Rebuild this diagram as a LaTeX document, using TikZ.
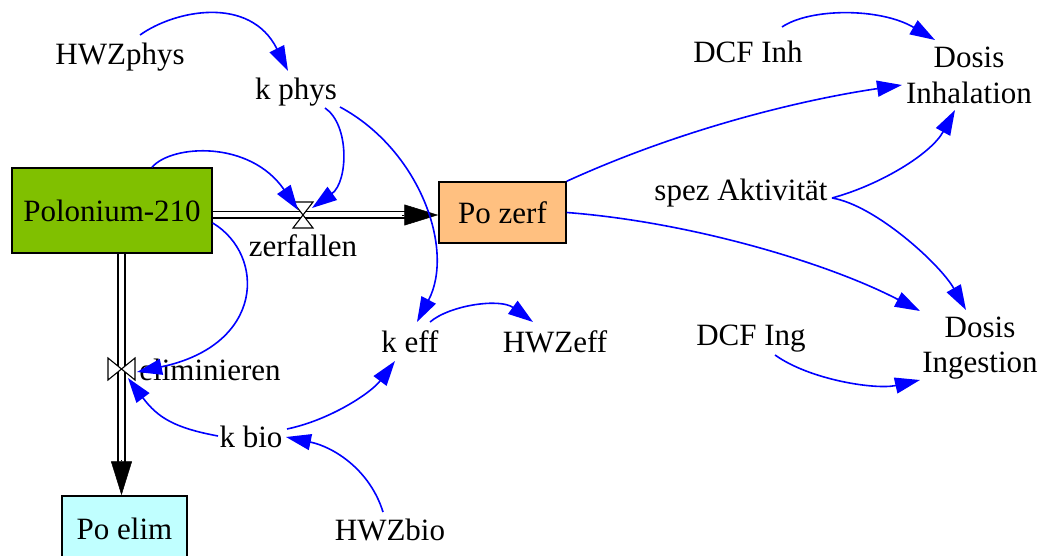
\documentclass[tikz,border=0pt]{standalone}
\usepackage{fontspec}
\setmainfont{Liberation Serif}
\usetikzlibrary{arrows.meta,calc}
\definecolor{polgreen}{RGB}{128,192,0}
\definecolor{zerforange}{RGB}{255,192,128}
\definecolor{elimcyan}{RGB}{192,255,255}
\begin{document}
\begin{tikzpicture}[x=1pt,y=-1pt,
  txt/.style={font=\fontsize{31}{35.5}\selectfont, inner sep=0pt, anchor=base},
  stock/.style={draw=black, line width=1.5pt, font=\fontsize{31}{35.5}\selectfont, inner sep=0pt},
  pipe/.style={draw=black, double=white, line width=1.6pt, double distance=5pt},
  flowhead/.style={black, line width=0.5pt, -{Triangle[length=34pt,width=21pt]}},
  valve/.style={draw=black, fill=white, line width=1.1pt, line join=miter},
  link/.style={draw=blue, line width=1.6pt, -{Triangle[length=25pt,width=16pt]}}]
\useasboundingbox (0,0) rectangle (1042,556);

% stocks
\node[stock, fill=polgreen, minimum width=200pt, minimum height=85pt] (polo) at (112,210.5) {Polonium-210};
\node[stock, fill=zerforange, minimum width=127pt, minimum height=61pt] (pozerf) at (502.5,212.5) {Po zerf};
\node[stock, fill=elimcyan, minimum width=125pt, minimum height=65pt] (poelim) at (124.5,528.5) {Po elim};

% valves
\coordinate (vz) at (303,215);
\coordinate (ve) at (121.5,369);

% flows
\draw[pipe] (polo.east |- vz) -- ($(pozerf.west |- vz)+(-33,0)$);
\draw[flowhead] ($(pozerf.west |- vz)+(-36,0)$) -- (pozerf.west |- vz);
\draw[pipe] (polo.south -| ve) -- ($(poelim.north -| ve)+(0,-31)$);
\draw[flowhead] ($(poelim.north -| ve)+(0,-35)$) -- (poelim.north -| ve);

\draw[valve] ($(vz)+(-10,-13)$) -- ($(vz)+(10,-13)$) -- (vz) -- cycle;
\draw[valve] ($(vz)+(-10,13)$) -- ($(vz)+(10,13)$) -- (vz) -- cycle;
\draw[valve] ($(ve)+(-13.5,-11)$) -- ($(ve)+(-13.5,11)$) -- (ve) -- cycle;
\draw[valve] ($(ve)+(13.5,-11)$) -- ($(ve)+(13.5,11)$) -- (ve) -- cycle;

% labels and auxiliaries
\node[txt] (zerf) at (303,257) {zerfallen};
\node[txt] (elim) at (210,380) {eliminieren};
\node[txt] (hwzphys) at (120,65) {HWZphys};
\node[txt] (kphys) at (296,100) {k phys};
\node[txt] (keff) at (410,352) {k eff};
\node[txt] (hwzeff) at (555,352) {HWZeff};
\node[txt] (kbio) at (251,447) {k bio};
\node[txt] (hwzbio) at (390,540) {HWZbio};
\node[txt] (spez) at (741,201) {spez Aktivität};
\node[txt] (dcfinh) at (748,63) {DCF Inh};
\node[txt] (dcfing) at (751,345) {DCF Ing};
\node[txt] (dosisinh) at (969,68) {\begin{tabular}[t]{@{}c@{}}Dosis\\Inhalation\end{tabular}};
\node[txt] (dosising) at (980,337) {\begin{tabular}[t]{@{}c@{}}Dosis\\Ingestion\end{tabular}};

% links
\draw[link] ($(hwzphys.base)+(20,-30)$) .. controls +(35,-25) and +(-38,-76) .. ($(kphys.base)+(-8,-29)$);
\draw[link] ($(polo.north)+(40,0)$) .. controls +(20,-23) and +(-48,-70) .. ($(vz)+(-5,-5)$);
\draw[link] ($(kphys.base)+(29,8)$) .. controls +(25,17) and +(36,-26) .. ($(vz)+(9,-7)$);
\draw[link] ($(kphys.base)+(44,7)$) .. controls +(80,43) and +(38,-72) .. ($(keff.base)+(7,-30)$);
\draw[link] ($(polo.east)+(0,12.5)$) .. controls +(53,32) and +(128,-27) .. ($(ve)+(15.5,3)$);
\draw[link] ($(kbio.base)+(-33,-11)$) .. controls +(-43,-8) and +(30,40) .. ($(ve)+(6.5,9)$);
\draw[link] ($(kbio.base)+(36,-18)$) .. controls +(43,-9) and +(-24,32) .. ($(keff.base)+(-15,9)$);
\draw[link] ($(hwzbio.base)+(-7,-28)$) .. controls +(-13,-42) and +(48,10) .. ($(kbio.base)+(35,-10)$);
\draw[link] ($(keff.base)+(20,-30)$) .. controls +(20,-17) and +(-33,-24) .. ($(hwzeff.base)+(-22,-30)$);
\draw[link] (pozerf.north east) .. controls +(114,-52) and +(-102,15) .. ($(dosisinh.base)+(-67,17)$);
\draw[link] ($(spez.base)+(91,-3)$) .. controls +(48,-13) and +(-24,44) .. ($(dosisinh.base)+(-14,42)$);
\draw[link] ($(dcfinh.base)+(34,-36)$) .. controls +(28,-19) and +(-55,-32.5) .. ($(dosisinh.base)+(-34,-28)$);
\draw[link] (pozerf.east) .. controls +(124,9.5) and +(-92,-48) .. ($(dosising.base)+(-60,-26)$);
\draw[link] ($(spez.base)+(91,-3)$) .. controls +(43,7) and +(-26,-46) .. ($(dosising.base)+(-14,-27)$);
\draw[link] ($(dcfing.base)+(24,10)$) .. controls +(35,25) and +(-44,10) .. ($(dosising.base)+(-60,43)$);
\end{tikzpicture}
\end{document}
